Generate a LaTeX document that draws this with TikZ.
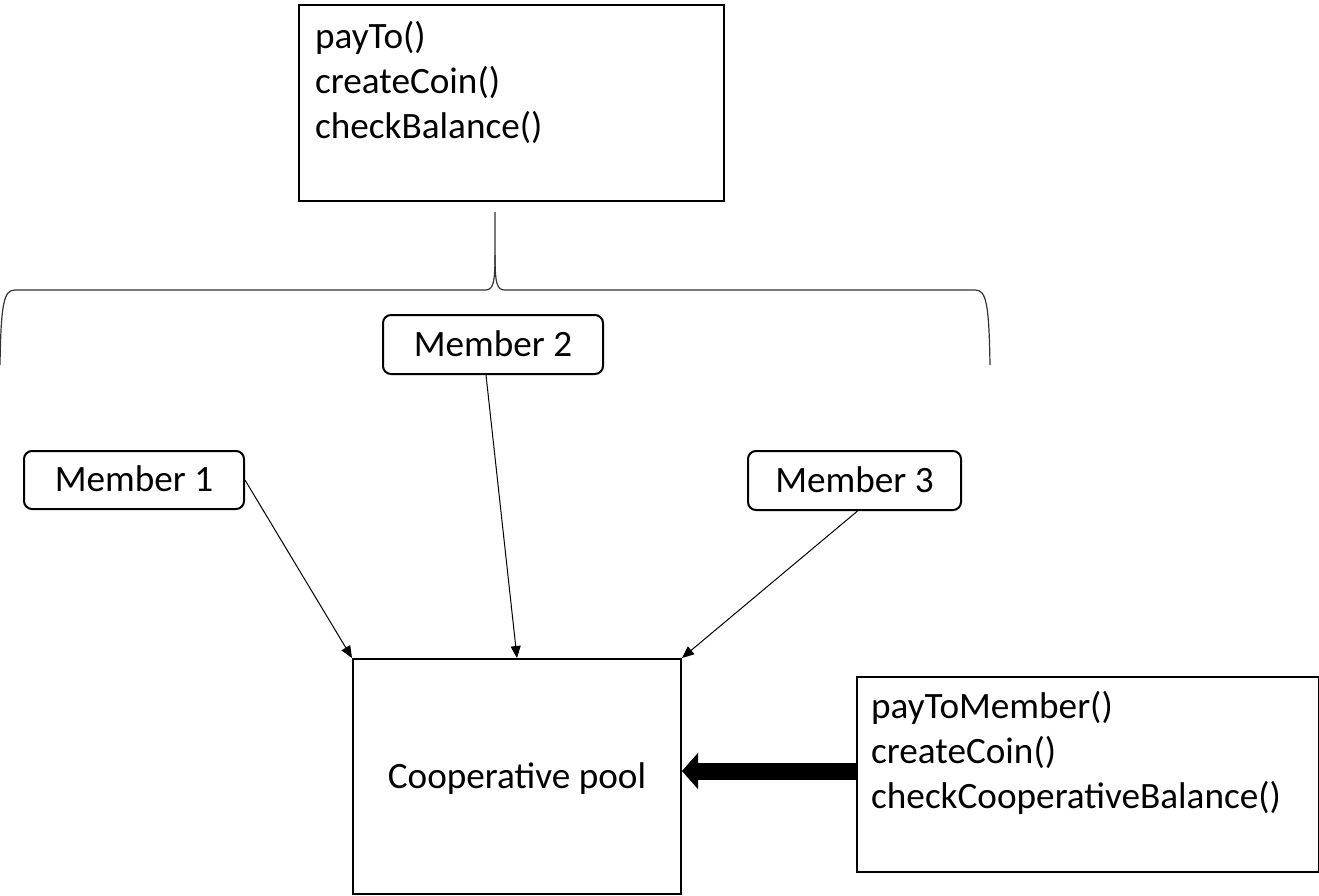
\documentclass[tikz,border=0pt]{standalone}
\usepackage{fontspec}
\setmainfont{Carlito}
\usetikzlibrary{arrows.meta,calc}
\begin{document}
\begin{tikzpicture}[x=1pt,y=-1pt,
  txt/.style={font=\fontsize{37.2}{45}\selectfont},
  plainbox/.style={draw,line width=2pt,inner sep=0pt,anchor=north west},
  member/.style={draw,line width=2pt,rounded corners=8pt,inner sep=0pt,anchor=north west,
    font=\fontsize{37.2}{45}\selectfont,text height=23.7pt,text depth=0pt},
  thin/.style={line width=1pt,-{Triangle[length=12pt,width=10pt]}},
  brace/.style={line width=1.2pt,black!80}]
\useasboundingbox (0,0) rectangle (1319,895);
% top box
\node[plainbox,minimum width=425pt,minimum height=196pt] (top) at (298,4) {};
\node[txt,anchor=base west,inner sep=0pt] (toptext) at (315,48)
  {\begin{tabular}[t]{@{}l@{}}payTo()\\createCoin()\\checkBalance()\end{tabular}};
% brace
\coordinate (bstem) at (495,212);
\coordinate (bleft) at (0,365);
\coordinate (bright) at (990,365);
\draw[brace] (bstem) -- (495,255) .. controls (495,284) and (493,290) .. (485,290) -- (15,290)
  .. controls (4,290) and (1,302) .. (bleft);
\draw[brace] (495,255) .. controls (495,284) and (497,290) .. (505,290) -- (975,290)
  .. controls (986,290) and (989,302) .. (bright);
% members
\node[member,minimum width=220pt,minimum height=59pt] (m2) at (382,314) {Member 2};
\node[member,minimum width=220pt,minimum height=58pt] (m1) at (23,450) {Member 1};
\node[member,minimum width=213pt,minimum height=59pt] (m3) at (747,450) {Member 3};
% pool
\node[plainbox,minimum width=328pt,minimum height=235pt] (pool) at (352,658) {};
\node[txt,inner sep=0pt,text height=23.7pt,text depth=0pt] (pooltext) at (pool.center) {Cooperative pool};
% right box
\node[plainbox,minimum width=462pt,minimum height=195pt] (rb) at (856,676) {};
\node[txt,anchor=base west,inner sep=0pt] (rbtext) at (871,718)
  {\begin{tabular}[t]{@{}l@{}}payToMember()\\createCoin()\\checkCooperativeBalance()\end{tabular}};
% arrows
\draw[thin] (m1.east) -- (pool.north west);
\draw[thin] ($(m2.south)+(-7,0)$) -- (pool.north);
\draw[thin] ($(m3.south)+(3,0)$) -- (pool.north east);
\draw[line width=17pt,-{Triangle[length=16pt,width=36pt,line width=0.1pt]}] (rb.west |- 0,771) -- (pool.east |- 0,771);
\end{tikzpicture}
\end{document}
